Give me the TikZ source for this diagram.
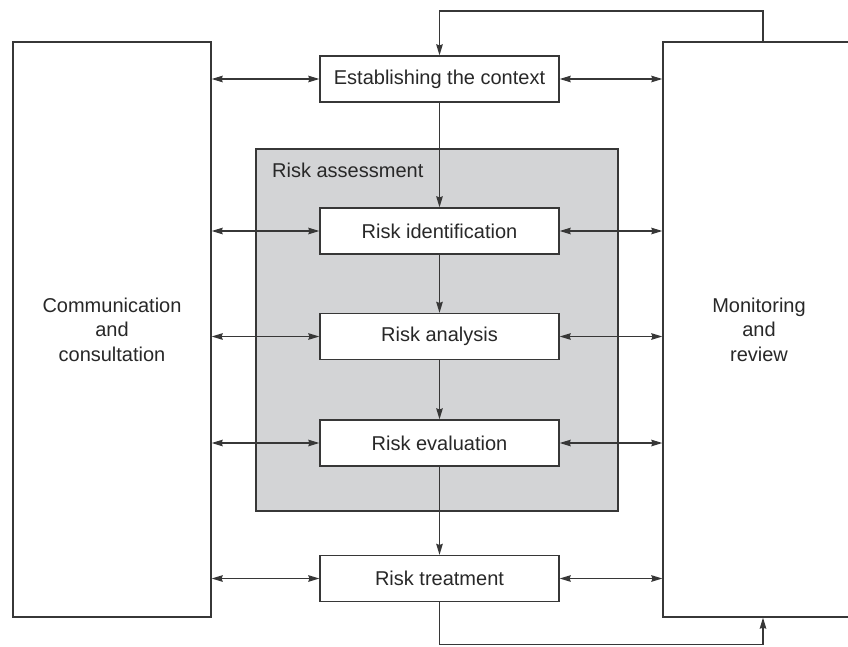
\documentclass[tikz,border=0pt]{standalone}
\usepackage{fontspec}
\setmainfont{Liberation Sans}
\usetikzlibrary{arrows.meta}
\definecolor{linec}{RGB}{55,55,55}
\definecolor{textc}{RGB}{40,40,40}
\definecolor{grayfill}{RGB}{211,212,214}
\tikzset{
  stepbox/.style={draw=linec, line width=1.3pt, fill=white, minimum width=239pt,
    minimum height=46pt, inner sep=0pt, text=textc, font=\fontsize{20}{24}\selectfont},
  sidebox/.style={draw=linec, line width=1.3pt, fill=white, minimum height=575pt,
    inner sep=0pt, align=center, text=textc, font=\fontsize{20}{24.5}\selectfont},
  assess/.style={draw=linec, line width=1.3pt, fill=grayfill, minimum width=362pt,
    minimum height=362pt, inner sep=0pt},
  conn/.style={draw=linec, line width=1.3pt},
  tip/.tip={Stealth[length=11pt,width=6.5pt,inset=1pt]},
}
\begin{document}
\begin{tikzpicture}[x=1pt,y=-1pt]
\useasboundingbox (0,0) rectangle (848,646);
% side boxes
\node[sidebox, minimum width=198pt] (comm) at (112,329.5) {Communication\\and\\consultation};
\node[sidebox, minimum width=192pt] (mon) at (759,329.5) {Monitoring\\and\\review};
% risk assessment area
\node[assess] (ra) at (437,330) {};
\node[anchor=base west, inner sep=0pt, text=textc, font=\fontsize{20}{24}\selectfont] (ralabel) at (272,177) {Risk assessment};
% process steps
\node[stepbox] (ctx) at (439.5,79) {Establishing the context};
\node[stepbox] (ri) at (439.5,231) {Risk identification};
\node[stepbox] (ran) at (439.5,336.5) {Risk analysis};
\node[stepbox] (rev) at (439.5,443) {Risk evaluation};
\node[stepbox] (rt) at (439.5,578.5) {Risk treatment};
% feedback corner points
\coordinate (fbtop) at (763,11);
\coordinate (fbbot) at (763,644.5);
% vertical flow
\draw[conn, -tip] (ctx.south) -- (ri.north);
\draw[conn, -tip] (ri.south) -- (ran.north);
\draw[conn, -tip] (ran.south) -- (rev.north);
\draw[conn, -tip] (rev.south) -- (rt.north);
% horizontal two-way arrows
\foreach \n in {ctx,ri,ran,rev,rt}{
  \draw[conn, tip-tip] (comm.east |- \n.west) -- (\n.west);
  \draw[conn, tip-tip] (\n.east) -- (mon.west |- \n.east);
}
% feedback loops
\draw[conn, -tip] (mon.north -| fbtop) -- (fbtop) -- (fbtop -| ctx.north) -- (ctx.north);
\draw[conn, -tip] (rt.south) -- (rt.south |- fbbot) -- (fbbot) -- (mon.south -| fbbot);
\end{tikzpicture}
\end{document}
